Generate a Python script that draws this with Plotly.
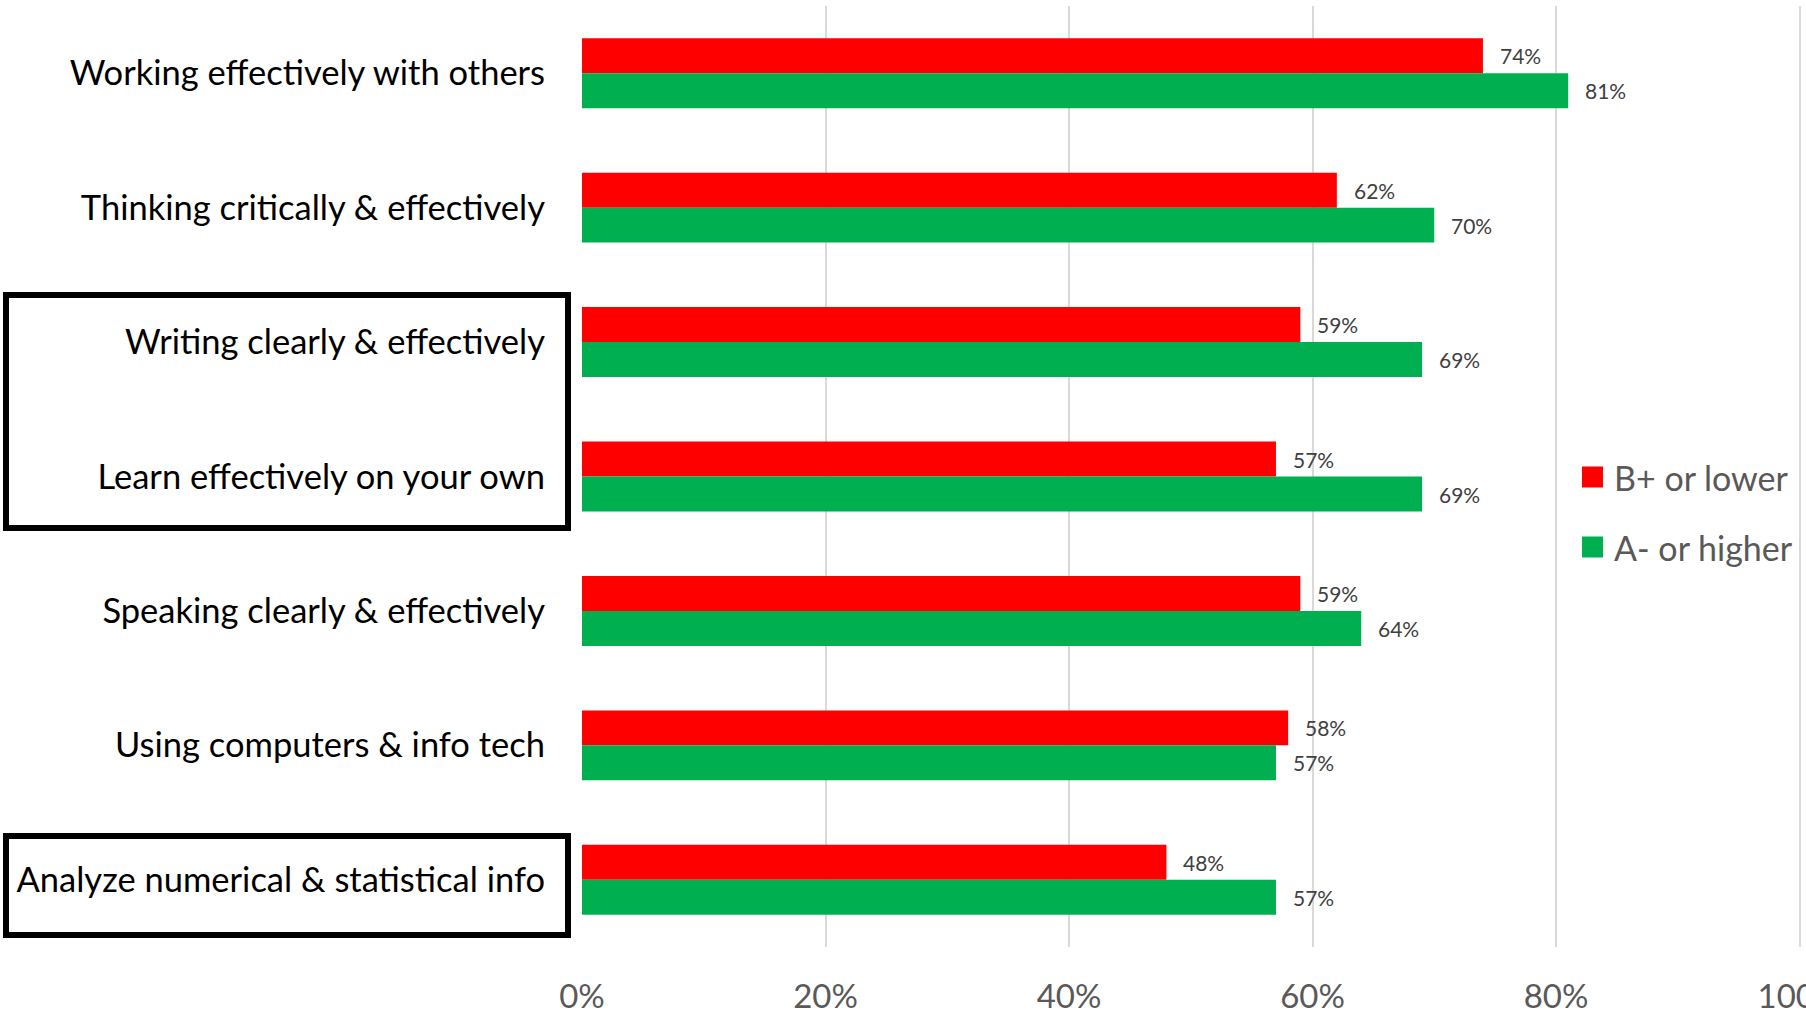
import plotly.graph_objects as go

categories = [
    "Working effectively with others",
    "Thinking critically & effectively",
    "Writing clearly & effectively",
    "Learn effectively on your own",
    "Speaking clearly & effectively",
    "Using computers & info tech",
    "Analyze numerical & statistical info",
]
b_plus_or_lower = [0.74, 0.62, 0.59, 0.57, 0.59, 0.58, 0.48]
a_minus_or_higher = [0.81, 0.70, 0.69, 0.69, 0.64, 0.57, 0.57]
series_names = ["B+ or lower", "A- or higher"]
x_ticks = [0, 0.2, 0.4, 0.6, 0.8, 1.0]
x_tick_labels = ["0%", "20%", "40%", "60%", "80%", "100%"]

RED = "#FF0000"
GREEN = "#00B050"
FONT = "Lato"

fig = go.Figure()
fig.add_trace(go.Bar(
    y=categories, x=b_plus_or_lower, name=series_names[0], orientation="h",
    marker=dict(color=RED, line=dict(width=0)), showlegend=False,
))
fig.add_trace(go.Bar(
    y=categories, x=a_minus_or_higher, name=series_names[1], orientation="h",
    marker=dict(color=GREEN, line=dict(width=0)), showlegend=False,
))

annotations = []
for vals, shift in ((b_plus_or_lower, 17.5), (a_minus_or_higher, -17.5)):
    for cat, v in zip(categories, vals):
        annotations.append(dict(x=v, y=cat, xref="x", yref="y", text=f"{round(v*100)}%",
                                showarrow=False, xanchor="left", yanchor="middle",
                                xshift=15, yshift=shift,
                                font=dict(family=FONT, size=21, color="#404040")))

L, R, T, B = 582, 0, 6, 69
W, H = 1806, 1016
pw, ph = W - L - R, H - T - B
X_MAX = pw / 1217.5  # 100% sits ~6px inside the right edge

def px_x(px):
    return (px - L) / pw

def px_y(py):
    return (H - B - py) / ph

shapes = [
    dict(type="rect", xref="paper", yref="paper",
         x0=px_x(6), x1=px_x(568), y0=px_y(528), y1=px_y(295),
         line=dict(color="black", width=6), fillcolor="rgba(0,0,0,0)"),
    dict(type="rect", xref="paper", yref="paper",
         x0=px_x(6), x1=px_x(568), y0=px_y(935), y1=px_y(836),
         line=dict(color="black", width=6), fillcolor="rgba(0,0,0,0)"),
]

# legend (drawn manually for exact symbol size)
legend_colors = [RED, GREEN]
legend_y_px = [477, 547]
for name, col, ly in zip(series_names, legend_colors, legend_y_px):
    shapes.append(dict(type="rect", xref="paper", yref="paper",
                       x0=px_x(1582), x1=px_x(1603), y0=px_y(ly + 10.5), y1=px_y(ly - 10.5),
                       line=dict(width=0), fillcolor=col))
    annotations.append(dict(x=px_x(1612), y=px_y(ly), xref="paper", yref="paper",
                            text=name, showarrow=False, xanchor="left", yanchor="middle",
                            font=dict(family=FONT, size=34, color="#595959")))

fig.update_layout(
    width=W, height=H,
    margin=dict(l=L, r=R, t=T, b=B, pad=0, autoexpand=False),
    paper_bgcolor="white", plot_bgcolor="white",
    barmode="group", bargap=0.48, bargroupgap=0,
    font=dict(family=FONT),
    showlegend=False,
    annotations=annotations,
    shapes=shapes,
    xaxis=dict(
        range=[0, X_MAX], tickvals=x_ticks, ticktext=x_tick_labels,
        showgrid=True, gridcolor="#D9D9D9", gridwidth=2,
        zeroline=False, showline=False, ticks="", automargin=False,
        ticklabelstandoff=27, ticklabeloverflow="allow",
        tickfont=dict(family=FONT, size=33, color="#595959"),
    ),
    yaxis=dict(
        autorange="reversed", showgrid=False, zeroline=False, automargin=False,
        showline=False, ticks="", ticklabelstandoff=36,
        tickfont=dict(family=FONT, size=34.5, color="black"),
    ),
)

fig.write_html(
    "out.html",
    config={"displayModeBar": False},
    post_script="document.body.style.margin='0';document.body.style.overflow='hidden';",
)
